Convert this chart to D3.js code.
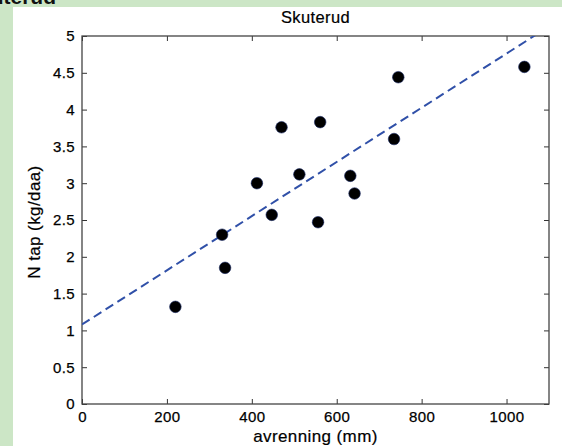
<!DOCTYPE html>
<html><head><meta charset="utf-8">
<script src="https://cdn.jsdelivr.net/npm/d3@7/dist/d3.min.js"></script>
<style>
html,body{margin:0;padding:0;background:#cce6c6;}
svg{display:block;}
text{font-family:"Liberation Sans",Arial,sans-serif;}
</style></head>
<body><svg id="c" width="562" height="446"></svg>
<script>
const runoff = [220, 330, 337, 412, 447, 470, 512, 556, 561, 632, 642, 735, 745, 1042];
const nLoss  = [1.32, 2.30, 1.85, 3.00, 2.57, 3.76, 3.12, 2.47, 3.83, 3.10, 2.86, 3.60, 4.44, 4.58];
const fitX = [0, 1100];
const fitY = [1.08, 5.13];
const xTicks = [0, 200, 400, 600, 800, 1000];
const yTicks = [0, 0.5, 1, 1.5, 2, 2.5, 3, 3.5, 4, 4.5, 5];
const title = "Skuterud";
const xLabel = "avrenning (mm)";
const yLabel = "N tap (kg/daa)";

const svg = d3.select("#c");
svg.append("rect").attr("x",0).attr("y",0).attr("width",562).attr("height",446).attr("fill","#cce6c6");
svg.append("rect").attr("x",13).attr("y",7).attr("width",549).attr("height",439).attr("fill","#fff");
svg.append("text").attr("x",56).attr("y",4).attr("text-anchor","end")
  .attr("font-size",21).attr("font-weight","bold").attr("fill","#111").text(title);

const L=82,R=549,T=36,B=404;
const x = d3.scaleLinear().domain([0,1100]).range([L,R]);
const y = d3.scaleLinear().domain([0,5]).range([B,T]);

svg.append("clipPath").attr("id","clip").append("rect").attr("x",L).attr("y",T).attr("width",R-L).attr("height",B-T);

const tickStyle = sel => {
  sel.select(".domain").remove();
  sel.selectAll("line").attr("stroke","#333");
  sel.selectAll("text").attr("font-size",15).attr("letter-spacing",0.4).attr("fill","#000")
    .attr("stroke","#000").attr("stroke-width",0.25)
    .attr("font-family","Liberation Sans, Arial, sans-serif");
};

const g = svg.append("g");
g.append("g").attr("transform",`translate(0,${B})`)
  .call(d3.axisBottom(x).tickValues(xTicks).tickFormat(d3.format("d")).tickSizeInner(-5).tickSizeOuter(0).tickPadding(7))
  .call(tickStyle);
g.append("g").attr("transform",`translate(0,${T})`)
  .call(d3.axisTop(x).tickValues(xTicks).tickFormat("").tickSizeInner(-5).tickSizeOuter(0))
  .call(tickStyle);
g.append("g").attr("transform",`translate(${L},0)`)
  .call(d3.axisLeft(y).tickValues(yTicks).tickFormat(d=>String(d)).tickSizeInner(-5).tickSizeOuter(0).tickPadding(7))
  .call(tickStyle);
g.append("g").attr("transform",`translate(${R},0)`)
  .call(d3.axisRight(y).tickValues(yTicks).tickFormat("").tickSizeInner(-5).tickSizeOuter(0))
  .call(tickStyle);

svg.append("rect").attr("x",L).attr("y",T).attr("width",R-L).attr("height",B-T)
  .attr("fill","none").attr("stroke","#444").attr("stroke-width",1.3);

svg.append("line").attr("clip-path","url(#clip)")
  .attr("x1",x(fitX[0])).attr("y1",y(fitY[0])).attr("x2",x(fitX[1])).attr("y2",y(fitY[1]))
  .attr("stroke","#3050a8").attr("stroke-width",2).attr("stroke-dasharray","9,5");

svg.append("g").selectAll("circle").data(runoff).join("circle")
  .attr("cx",(d)=>x(d)).attr("cy",(d,i)=>y(nLoss[i])).attr("r",5.8)
  .attr("fill","#000").attr("stroke","#1a2a66").attr("stroke-width",0.6);

const lab = s => s.attr("fill","#000").attr("letter-spacing",0.4).attr("stroke","#000").attr("stroke-width",0.2);
svg.append("text").attr("x",(L+R)/2).attr("y",23).attr("text-anchor","middle").attr("font-size",16.5).call(lab).text(title);
svg.append("text").attr("x",(L+R)/2).attr("y",442).attr("text-anchor","middle").attr("font-size",17).call(lab).text(xLabel);
svg.append("text").attr("transform",`translate(40,${(T+B)/2 + 2}) rotate(-90)`).attr("text-anchor","middle").attr("font-size",17).call(lab).text(yLabel);
</script></body></html>
